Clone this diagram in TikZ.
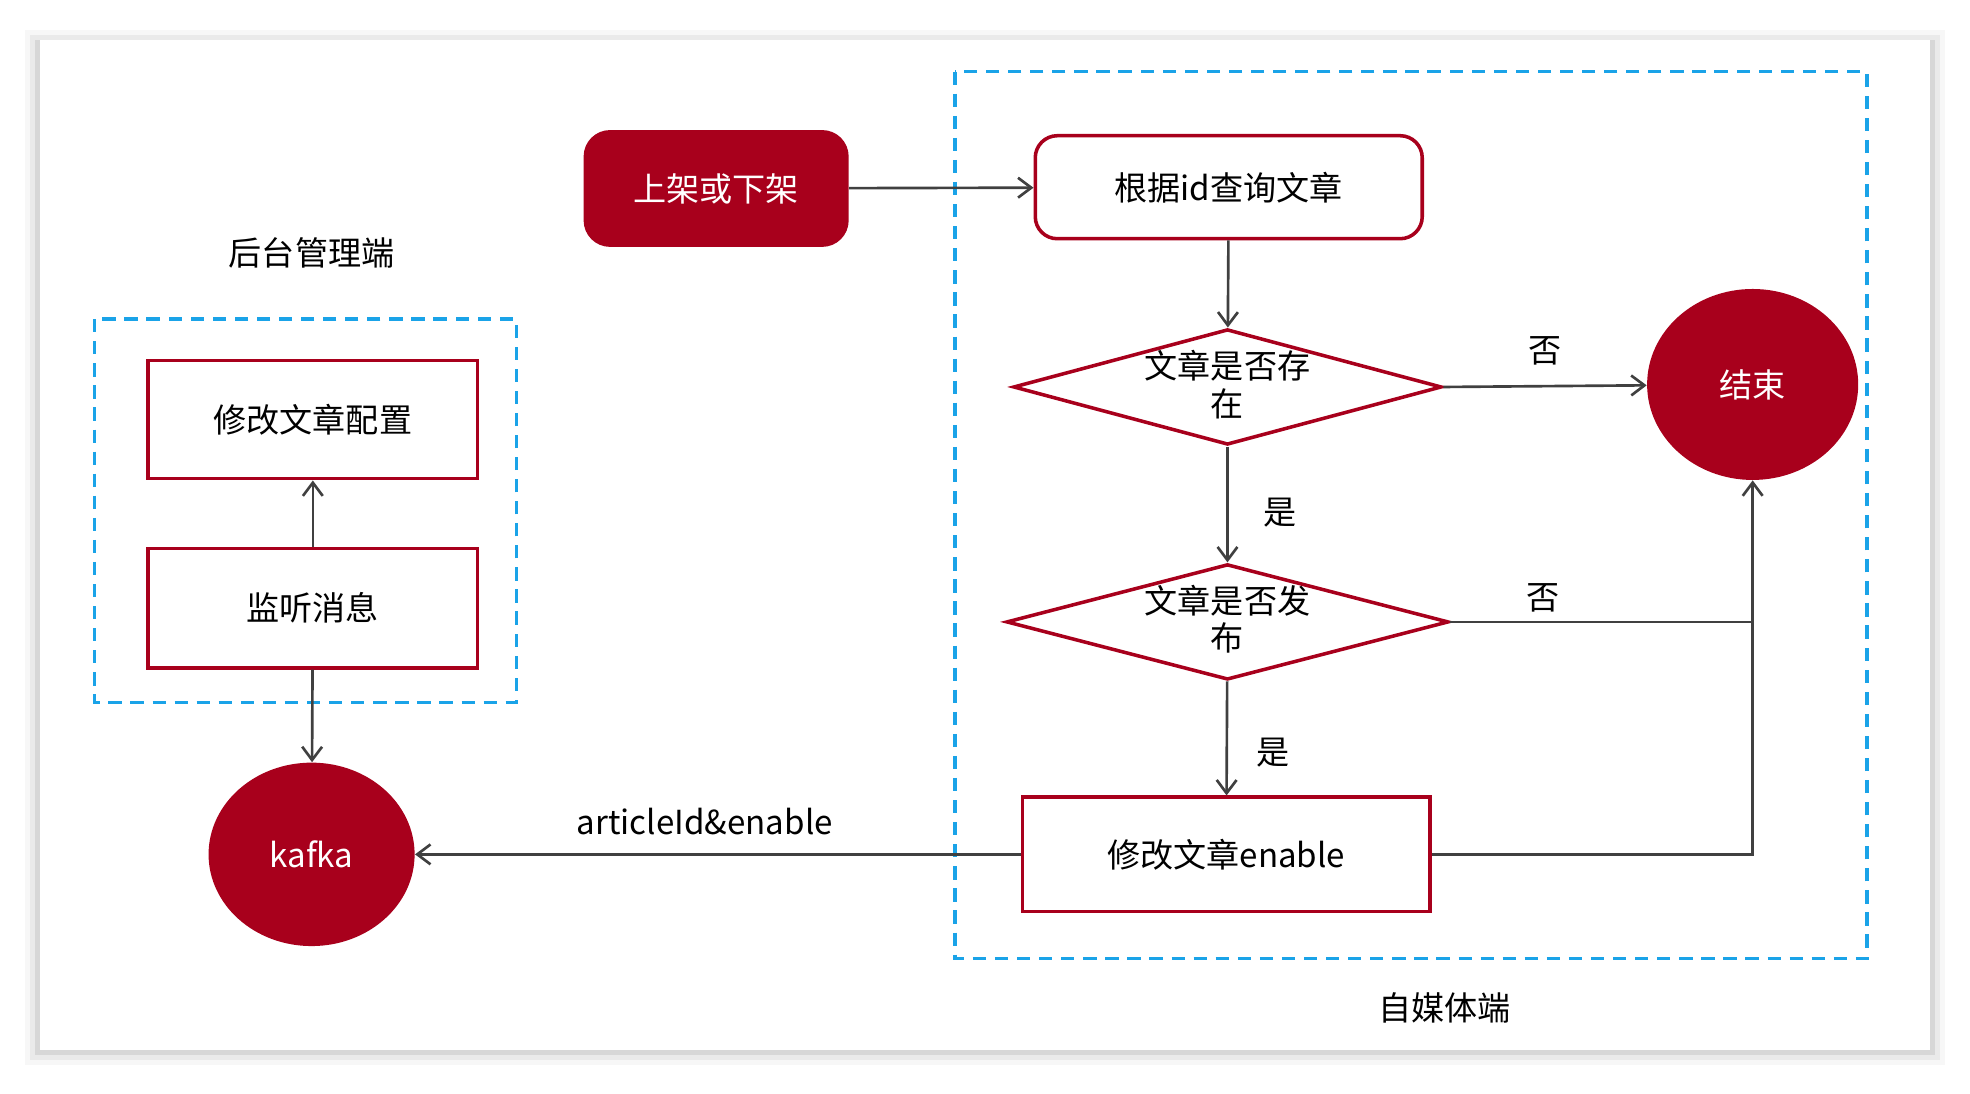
\documentclass[tikz,border=0pt]{standalone}
\usepackage{fontspec}
\setmainfont{Noto Sans CJK SC}
\usetikzlibrary{shapes.geometric,arrows.meta}
\definecolor{dred}{HTML}{A8001C}
\definecolor{dblue}{HTML}{1AA3E8}
\definecolor{lgray}{HTML}{404040}
\tikzset{
 x=0.02cm,y=-0.02cm,
 every node/.style={font=\fontsize{15}{18}\selectfont,text=black},
 boxr/.style={draw=dred,line width=1.6pt,minimum width=#1},
 dbox/.style={draw=dblue,line width=1.5pt,dash pattern=on 6pt off 4pt},
 conn/.style={draw=lgray,line width=1.2pt,-{Straight Barb[length=6pt,width=9pt]}},
 line/.style={draw=lgray,line width=1.2pt},
}
\begin{document}
\begin{tikzpicture}
\useasboundingbox (0,0) rectangle (1568,870);
\fill[white] (0,0) rectangle (1568,870);
\foreach \i/\o in {12/0.03,8/0.05,4/0.08}{\fill[black,opacity=\o] (32-\i,32-\i+4) rectangle (1536+\i,836+\i);}
\fill[white] (32,32) rectangle (1536,836);
% dashed groups
\draw[dbox] (75,254) rectangle (411,559);
\draw[dbox] (760,57) rectangle (1486,763);
\node (lblL) at (248,201) {后台管理端};
\node (lblR) at (1150,802) {自媒体端};
% nodes
\node[fill=dred,rounded corners=12pt,minimum width=211*0.02cm,minimum height=93*0.02cm,text=white] (up) at (570,150) {\textcolor{white}{上架或下架}};
\node[boxr=308*0.02cm,rounded corners=10pt,minimum height=82*0.02cm] (query) at (978,149) {根据id查询文章};
\node[draw=dred,line width=1.6pt,diamond,aspect=3.7,minimum width=341*0.02cm,minimum height=92*0.02cm,inner sep=0pt] (d1) at (977,308) {};
\node[align=center,font=\fontsize{15}{17}\selectfont] at (977,306) {文章是否存\\在};
\node[draw=dred,line width=1.6pt,diamond,aspect=3.8,minimum width=352*0.02cm,minimum height=92*0.02cm,inner sep=0pt] (d2) at (977,495) {};
\node[align=center,font=\fontsize{15}{17}\selectfont] at (977,493) {文章是否发\\布};
\node[fill=dred,ellipse,minimum width=168*0.02cm,minimum height=152*0.02cm] (end) at (1395,306) {\textcolor{white}{结束}};
\node[boxr=324*0.02cm,minimum height=91*0.02cm] (modify) at (976,680) {修改文章enable};
\node[fill=dred,ellipse,minimum width=164*0.02cm,minimum height=146*0.02cm] (kafka) at (248,680) {\textcolor{white}{kafka}};
\node[boxr=262*0.02cm,minimum height=94*0.02cm] (cfg) at (249,334) {修改文章配置};
\node[boxr=262*0.02cm,minimum height=95*0.02cm] (listen) at (249,484) {监听消息};
% connectors
\draw[conn] (up) -- (query);
\draw[conn] (query) -- (d1);
\draw[conn] (d1.east) -- (end);
\draw[conn] (d1) -- (d2);
\draw[conn] (d2) -- (modify);
\draw[line] (d2.east) -- (1395,495);
\draw[conn] (modify.east) -- (1395,680) -- (end.south);
\draw[conn] (modify) -- (kafka);
\draw[conn] (listen) -- (cfg);
\draw[conn] (listen) -- (kafka);
% labels
\node at (1230,279) {否};
\node at (1019,408) {是};
\node at (1228,476) {否};
\node at (1013,599) {是};
\node at (561,654) {articleId\&enable};
\end{tikzpicture}
\end{document}
